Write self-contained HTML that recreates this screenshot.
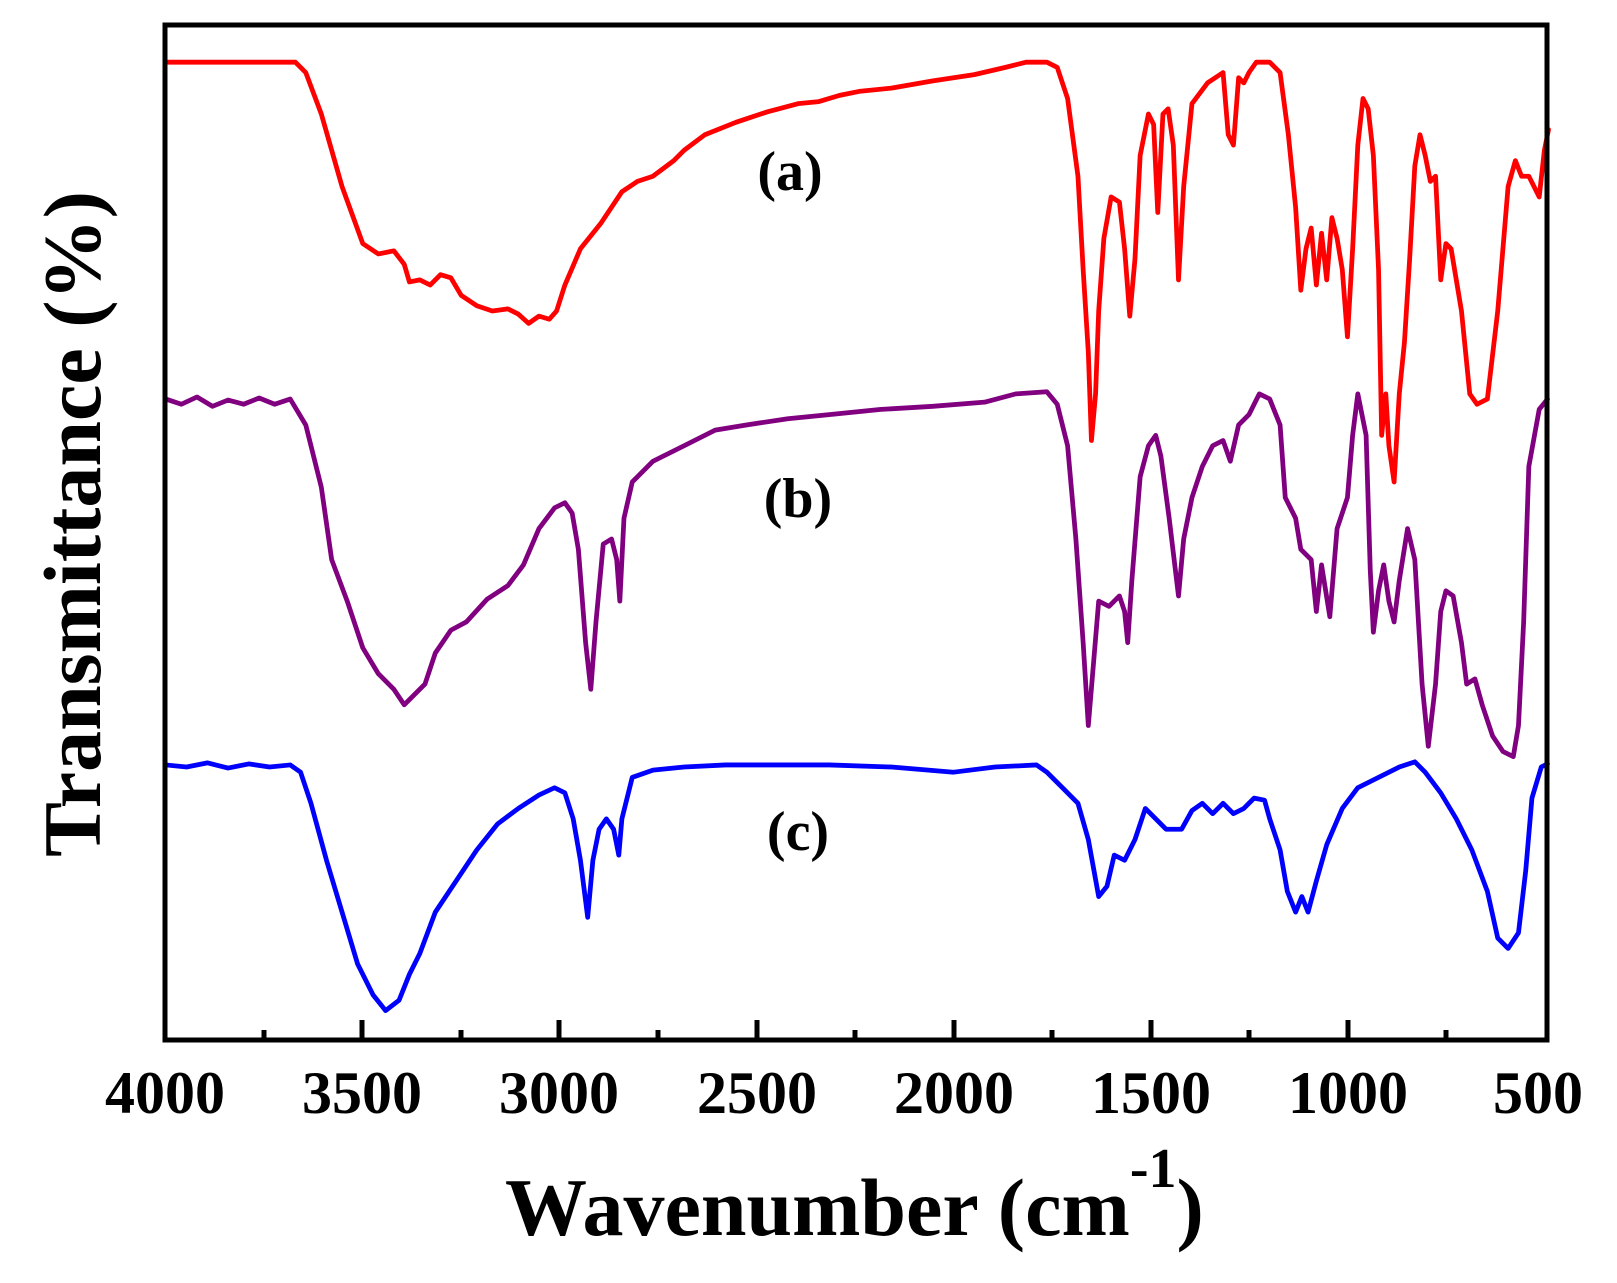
<!DOCTYPE html>
<html><head><meta charset="utf-8"><style>
html,body{margin:0;padding:0;background:#fff;}
svg{display:block;}
text{font-family:"Liberation Serif",serif;font-weight:bold;fill:#000;}
</style></head><body>
<svg width="1617" height="1283" viewBox="0 0 1617 1283" xmlns="http://www.w3.org/2000/svg">
<g fill="none" stroke-linejoin="round" stroke-linecap="round" stroke-width="4.6" transform="scale(1.0365)">
<polyline stroke="#ff0000" points="160,60 285,60 295,70 310,110 330,180 350,235 365,245 380,242 390,255 395,272 405,270 415,275 425,265 435,268 445,285 460,295 475,300 490,298 500,303 510,312 520,305 530,308 537,300 545,275 560,240 580,215 600,185 615,175 630,170 650,155 660,145 680,130 710,118 740,108 770,100 790,98 810,92 830,88 860,85 900,78 940,72 970,65 990,60 1010,60 1020,65 1030,95 1040,170 1045,260 1050,340 1053,425 1057,380 1060,300 1065,230 1072,190 1080,195 1085,240 1090,305 1095,250 1100,150 1108,110 1113,120 1117,205 1122,110 1127,105 1132,140 1137,270 1142,180 1150,100 1165,80 1180,70 1185,130 1190,140 1195,75 1200,80 1205,70 1212,60 1225,60 1235,70 1243,130 1250,200 1255,280 1260,240 1265,220 1270,275 1275,225 1280,270 1285,210 1290,230 1295,260 1300,325 1305,240 1310,140 1315,95 1320,105 1325,150 1330,260 1333,420 1337,380 1340,430 1345,465 1350,380 1355,330 1360,250 1365,160 1370,130 1375,150 1380,175 1385,170 1390,270 1395,235 1400,240 1410,300 1418,380 1425,390 1435,385 1445,300 1455,180 1462,155 1468,170 1475,170 1480,180 1485,190 1490,145 1494,125"/>
<polyline stroke="#800080" points="160,385 175,390 190,383 205,392 220,386 235,390 250,384 265,390 280,385 295,410 310,470 320,540 335,580 350,625 365,650 380,665 390,680 400,670 410,660 420,630 435,608 450,600 470,578 490,565 505,545 520,510 535,490 545,485 552,495 558,530 565,620 570,665 575,600 582,525 590,520 595,540 598,580 602,500 610,465 630,445 660,430 690,415 720,410 760,404 800,400 850,395 900,392 950,388 980,380 1010,378 1020,390 1030,430 1038,520 1045,620 1050,700 1055,640 1060,580 1070,585 1080,575 1085,590 1088,620 1092,560 1100,460 1108,430 1115,420 1120,440 1128,500 1137,575 1142,520 1150,480 1160,450 1170,430 1180,425 1187,445 1195,410 1205,400 1215,380 1225,385 1235,410 1240,480 1250,500 1255,530 1265,540 1270,590 1275,545 1283,595 1290,510 1300,480 1305,420 1310,380 1318,420 1322,550 1325,610 1330,570 1335,545 1340,580 1345,600 1350,560 1358,510 1365,540 1372,660 1378,720 1385,660 1390,590 1395,570 1402,575 1410,620 1415,660 1423,655 1430,680 1440,710 1450,725 1460,730 1465,700 1470,600 1475,450 1485,395 1493,385"/>
<polyline stroke="#0000ff" points="160,738 180,740 200,736 220,741 240,737 260,740 280,738 290,745 300,775 315,830 330,880 345,930 360,960 372,975 385,965 395,940 405,920 420,880 440,850 460,820 480,795 500,780 520,767 535,760 545,765 553,790 560,830 567,885 572,830 578,800 585,790 592,800 597,825 600,790 610,750 630,743 660,740 700,738 800,738 860,740 920,745 960,740 1000,738 1010,745 1025,760 1040,775 1050,810 1060,865 1068,855 1075,825 1085,830 1095,810 1105,780 1115,790 1125,800 1140,800 1150,782 1160,775 1170,785 1180,775 1190,785 1200,780 1210,770 1220,772 1225,790 1235,820 1242,860 1250,880 1256,865 1262,880 1270,850 1280,815 1295,780 1310,760 1330,750 1350,740 1365,735 1375,745 1390,765 1405,790 1420,820 1435,860 1445,905 1455,915 1465,900 1472,840 1478,770 1487,740 1493,737"/>
</g>
<rect x="165" y="25" width="1382" height="1015" fill="none" stroke="#000" stroke-width="5"/>
<g stroke="#000" stroke-width="5">
<line x1="264" y1="1040" x2="264" y2="1030"/>
<line x1="362" y1="1040" x2="362" y2="1020"/>
<line x1="461" y1="1040" x2="461" y2="1030"/>
<line x1="559" y1="1040" x2="559" y2="1020"/>
<line x1="658" y1="1040" x2="658" y2="1030"/>
<line x1="757" y1="1040" x2="757" y2="1020"/>
<line x1="855" y1="1040" x2="855" y2="1030"/>
<line x1="954" y1="1040" x2="954" y2="1020"/>
<line x1="1052" y1="1040" x2="1052" y2="1030"/>
<line x1="1151" y1="1040" x2="1151" y2="1020"/>
<line x1="1249" y1="1040" x2="1249" y2="1030"/>
<line x1="1348" y1="1040" x2="1348" y2="1020"/>
<line x1="1446" y1="1040" x2="1446" y2="1030"/>
</g>
<g font-size="60" text-anchor="middle">
<text x="165" y="1113">4000</text>
<text x="362" y="1113">3500</text>
<text x="559" y="1113">3000</text>
<text x="757" y="1113">2500</text>
<text x="954" y="1113">2000</text>
<text x="1151" y="1113">1500</text>
<text x="1348" y="1113">1000</text>
<text x="1538" y="1113">500</text>
</g>
<text x="505" y="1235" font-size="82">Wavenumber (cm<tspan font-size="56" dy="-48">-1</tspan><tspan font-size="82" dy="48">)</tspan></text>
<text transform="translate(100,524) rotate(-90)" font-size="82" text-anchor="middle">Transmittance (%)</text>
<g font-size="56" text-anchor="middle">
<text x="790" y="190">(a)</text>
<text x="798" y="517">(b)</text>
<text x="798" y="850">(c)</text>
</g>
</svg>
</body></html>
